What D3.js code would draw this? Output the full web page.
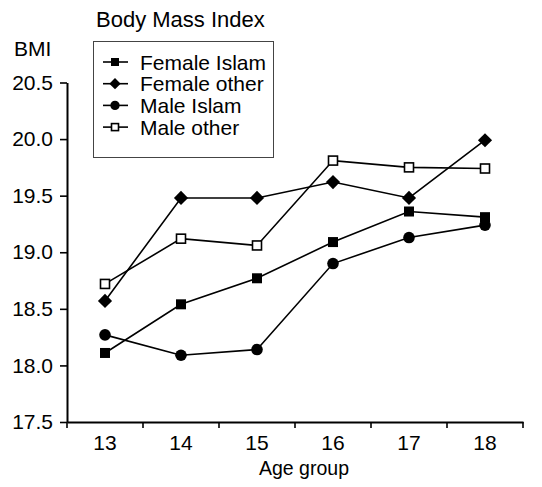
<!DOCTYPE html>
<html>
<head>
<meta charset="utf-8">
<script src="https://cdn.jsdelivr.net/npm/d3@7"></script>
<style>
  body { margin: 0; background: #fff; }
  text { font-family: "Liberation Sans", Arial, sans-serif; fill: #000; }
</style>
</head>
<body>
<svg id="chart"></svg>
<script>
var ages = ["13", "14", "15", "16", "17", "18"];
var yTicks = [17.5, 18.0, 18.5, 19.0, 19.5, 20.0, 20.5];
var seriesNames = ["Female Islam", "Female other", "Male Islam", "Male other"];
var femaleIslam = [18.11, 18.54, 18.77, 19.09, 19.36, 19.31];
var femaleOther = [18.57, 19.48, 19.48, 19.62, 19.48, 19.99];
var maleIslam   = [18.27, 18.09, 18.14, 18.90, 19.13, 19.24];
var maleOther   = [18.72, 19.12, 19.06, 19.81, 19.75, 19.74];

var width = 542, height = 487;
var svg = d3.select("#chart").attr("width", width).attr("height", height);

var x = d3.scaleBand().domain(ages).range([67, 523]);
var y = d3.scaleLinear().domain([17.5, 20.5]).range([422, 82.5]);

// marker shapes, one per series
var series = [
    {name: seriesNames[0], values: femaleIslam, shape: "square"},
    {name: seriesNames[1], values: femaleOther, shape: "diamond"},
    {name: seriesNames[2], values: maleIslam, shape: "circle"},
    {name: seriesNames[3], values: maleOther, shape: "open"}
];

function drawMarker(g, shape, s) {
    if (shape == "circle") {
	g.append("circle").attr("r", s * 0.58).attr("fill", "#000");
    } else if (shape == "diamond") {
	g.append("path")
	    .attr("d", d3.symbol().type(d3.symbolSquare).size(s * s)())
	    .attr("transform", "rotate(45)")
	    .attr("fill", "#000");
    } else if (shape == "open") {
	g.append("rect").attr("x", -s / 2 + 0.5).attr("y", -s / 2 + 0.5)
	    .attr("width", s - 1).attr("height", s - 1)
	    .attr("fill", "#fff").attr("stroke", "#000").attr("stroke-width", 1.6);
    } else {
	g.append("rect").attr("x", -s / 2).attr("y", -s / 2)
	    .attr("width", s).attr("height", s).attr("fill", "#000");
    }
}

// y axis
var yAxis = svg.append("g")
    .attr("transform", "translate(67,0)")
    .call(d3.axisLeft(y).tickValues(yTicks).tickSize(7).tickSizeOuter(0)
	  .tickFormat(d3.format(".1f")));
yAxis.select(".domain").attr("stroke-width", 2);
yAxis.selectAll(".tick line").attr("stroke-width", 1.6);
yAxis.selectAll("text").attr("font-size", 21).attr("x", -14)
    .style("font-family", "Liberation Sans, Arial, sans-serif");

// x axis: labels at centers, ticks at group boundaries
var xAxis = svg.append("g")
    .attr("transform", "translate(0,422)")
    .call(d3.axisBottom(x).tickSize(0).tickPadding(13));
xAxis.select(".domain").attr("stroke-width", 2);
xAxis.selectAll("text").attr("font-size", 21)
    .style("font-family", "Liberation Sans, Arial, sans-serif");
xAxis.selectAll(".sep")
    .data(ages.concat(["end"]))
    .enter().append("line")
    .attr("class", "sep")
    .attr("x1", function(d) { return d == "end" ? x.range()[1] : x(d); })
    .attr("x2", function(d) { return d == "end" ? x.range()[1] : x(d); })
    .attr("y1", 0).attr("y2", 6)
    .attr("stroke", "#000").attr("stroke-width", 1.6);

// lines and markers
var line = d3.line()
    .x(function(d, i) { return x(ages[i]) + x.bandwidth() / 2; })
    .y(function(d) { return y(d); });

series.forEach(function(s) {
    svg.append("path")
	.datum(s.values)
	.attr("d", line)
	.attr("fill", "none")
	.attr("stroke", "#000")
	.attr("stroke-width", 1.6);
});
series.forEach(function(s) {
    s.values.forEach(function(v, i) {
	var g = svg.append("g")
	    .attr("transform", "translate(" + (x(ages[i]) + x.bandwidth() / 2) + "," + y(v) + ")");
	drawMarker(g, s.shape, 10);
    });
});

// titles
svg.append("text").text("Body Mass Index").attr("x", 96).attr("y", 27).attr("font-size", 22);
svg.append("text").text("BMI").attr("x", 14).attr("y", 56).attr("font-size", 21);
svg.append("text").text("Age group").attr("x", 304).attr("y", 475)
    .attr("text-anchor", "middle").attr("font-size", 19.5);

// legend
var legend = svg.append("g");
legend.append("rect")
    .attr("x", 93.5).attr("y", 41.5).attr("width", 180).attr("height", 116)
    .attr("fill", "#fff").attr("stroke", "#444").attr("stroke-width", 1);
series.forEach(function(s, i) {
    var ly = 62 + i * 21.7;
    legend.append("line")
	.attr("x1", 103).attr("x2", 128).attr("y1", ly).attr("y2", ly)
	.attr("stroke", "#000").attr("stroke-width", 1.6);
    drawMarker(legend.append("g").attr("transform", "translate(115," + ly + ")"), s.shape, 8);
    legend.append("text").text(s.name)
	.attr("x", 140).attr("y", ly + 7.5).attr("font-size", 21);
});
</script>
</body>
</html>
